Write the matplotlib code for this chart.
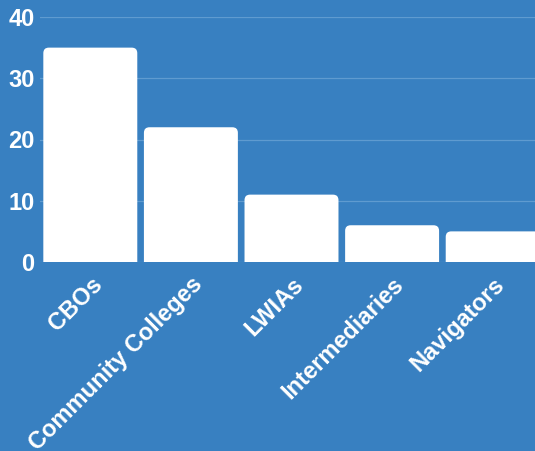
import matplotlib.pyplot as plt
from matplotlib.patches import FancyBboxPatch

categories = ['CBOs', 'Community Colleges', 'LWIAs', 'Intermediaries', 'Navigators']
values = [35, 22, 11, 6, 5]
yticks = [0, 10, 20, 30, 40]

bg = '#3880c1'
plt.rcParams['font.family'] = ['Liberation Sans', 'DejaVu Sans']

fig = plt.figure(figsize=(5.35, 4.51), dpi=100, facecolor=bg)
# axes runs past the right edge, the last bar is cut off
ax = fig.add_axes([40 / 535, 189 / 451, 503 / 535, 245 / 451])
ax.set_facecolor(bg)

x = list(range(len(categories)))
bars = ax.bar(x, values, width=0.934, color='white')
ax.set_xlim(-0.5, 4.5)
ax.set_ylim(0, 40)

# swap plain bars for ones with rounded top corners
px_x = 503 / 5.0
px_y = 245 / 40.0
aspect = px_x / px_y
for b in bars:
    x0, w, h = b.get_x(), b.get_width(), b.get_height()
    b.set_visible(False)
    p = FancyBboxPatch((x0, -2), w, h + 2,
                       boxstyle='round,pad=0,rounding_size=0.055',
                       mutation_aspect=aspect, fc='white', ec='none',
                       zorder=3, clip_on=True)
    ax.add_patch(p)

for s in ax.spines.values():
    s.set_visible(False)

ax.set_yticks(yticks)
ax.grid(axis='y', color='#5f9bd0', lw=0.9, zorder=0)
ax.set_axisbelow(True)
ax.tick_params(axis='both', length=0, colors='white', labelsize=17)
ax.tick_params(axis='y', pad=4)
ax.tick_params(axis='x', pad=8)
ax.set_xticks(x)
ax.set_xticklabels(categories, rotation=45, ha='right', rotation_mode='anchor',
                   fontweight='bold', color='white')
for t in ax.get_yticklabels():
    t.set_fontweight('bold')

plt.savefig('out.png', dpi=100, facecolor=bg)
